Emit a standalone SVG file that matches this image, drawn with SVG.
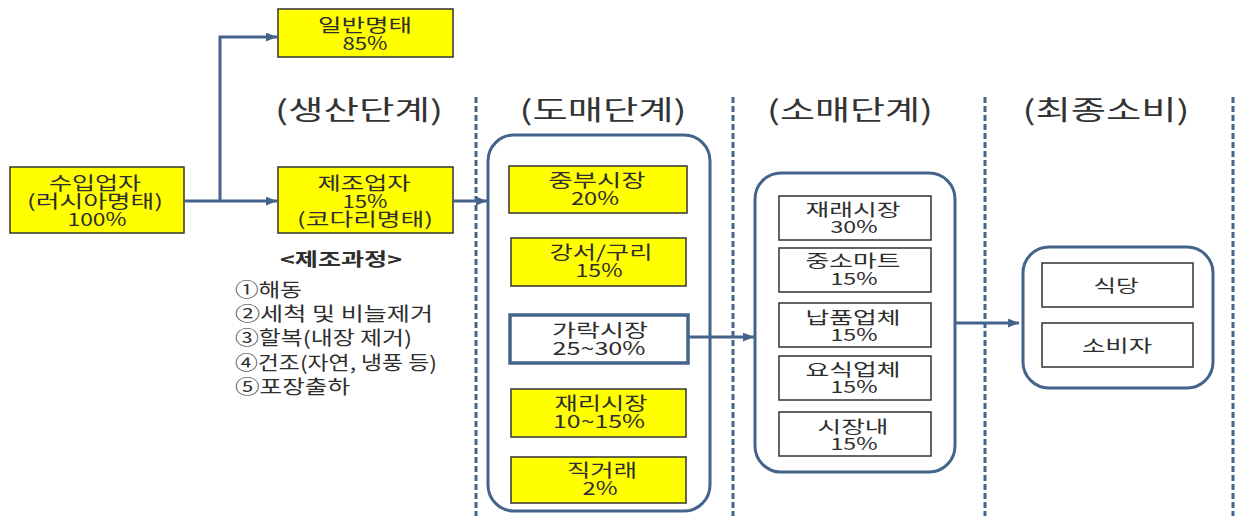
<svg xmlns="http://www.w3.org/2000/svg" width="1240" height="516" viewBox="0 0 1240 516">
<style>
text{font-family:"Noto Sans CJK KR","Noto Sans",sans-serif;fill:#2e2e2e}
.b{font-size:18px;text-anchor:middle}
.r{font-size:17px;text-anchor:middle}
.h{font-size:27px;text-anchor:middle;fill:#333}
.p{font-size:19px}
.pt{font-size:18px;font-weight:bold;text-anchor:middle}
.y{fill:#ffff00;stroke:#333;stroke-width:1.5}
.w{fill:#fff;stroke:#333;stroke-width:1.5}
.c{fill:none;stroke:#44648c;stroke-width:3}
.d{stroke:#44648c;stroke-width:3;stroke-dasharray:6 3}
.a{fill:none;stroke:#44648c;stroke-width:3}
</style>
<defs>
<marker id="arr" viewBox="0 0 10 8" refX="10" refY="4" markerWidth="11" markerHeight="9" markerUnits="userSpaceOnUse" orient="auto">
<path d="M0,0 L10,4 L0,8 z" fill="#44648c"/>
</marker>
</defs>
<rect width="1240" height="516" fill="#fff"/>

<g id="dividers">
<line class="d" x1="476" y1="97" x2="476" y2="516"/>
<line class="d" x1="733" y1="97" x2="733" y2="516"/>
<line class="d" x1="985" y1="97" x2="985" y2="516"/>
<line class="d" x1="1233" y1="97" x2="1233" y2="516"/>
</g>

<g id="headers">
<text class="h" x="359" y="120" textLength="168" lengthAdjust="spacingAndGlyphs">(생산단계)</text>
<text class="h" x="603" y="120" textLength="167" lengthAdjust="spacingAndGlyphs">(도매단계)</text>
<text class="h" x="850" y="120" textLength="166" lengthAdjust="spacingAndGlyphs">(소매단계)</text>
<text class="h" x="1106" y="120" textLength="167" lengthAdjust="spacingAndGlyphs">(최종소비)</text>
</g>

<g id="importer">
<rect class="y" x="10" y="167" width="174" height="66"/>
<text class="b" x="95" y="190" textLength="92" lengthAdjust="spacingAndGlyphs">수입업자</text>
<text class="b" x="95" y="208" textLength="136" lengthAdjust="spacingAndGlyphs">(러시아명태)</text>
<text class="b" x="97" y="226" textLength="59" lengthAdjust="spacingAndGlyphs">100%</text>
</g>

<g id="general">
<rect class="y" x="278" y="9" width="175" height="48"/>
<text class="b" x="365" y="32" textLength="94" lengthAdjust="spacingAndGlyphs">일반명태</text>
<text class="b" x="365" y="50" textLength="45" lengthAdjust="spacingAndGlyphs">85%</text>
</g>

<g id="manufacturer">
<rect class="y" x="278" y="167" width="175" height="66"/>
<text class="b" x="364" y="190" textLength="93" lengthAdjust="spacingAndGlyphs">제조업자</text>
<text class="b" x="365" y="208" textLength="45" lengthAdjust="spacingAndGlyphs">15%</text>
<text class="b" x="365" y="226" textLength="136" lengthAdjust="spacingAndGlyphs">(코다리명태)</text>
</g>

<g id="process">
<text class="pt" x="341" y="266" textLength="122" lengthAdjust="spacingAndGlyphs">&lt;제조과정&gt;</text>
<text class="p" x="235" y="297" textLength="67" lengthAdjust="spacingAndGlyphs">①해동</text>
<text class="p" x="235" y="321" textLength="198" lengthAdjust="spacingAndGlyphs">②세척 및 비늘제거</text>
<text class="p" x="235" y="345" textLength="177" lengthAdjust="spacingAndGlyphs">③할복(내장 제거)</text>
<text class="p" x="235" y="370" textLength="202" lengthAdjust="spacingAndGlyphs">④건조(자연, 냉풍 등)</text>
<text class="p" x="235" y="394" textLength="115" lengthAdjust="spacingAndGlyphs">⑤포장출하</text>
</g>

<g id="wholesale">
<rect class="c" x="488" y="135" width="222" height="376" rx="26"/>
</g>
<g id="jungbu">
<rect class="y" x="509" y="166" width="178" height="47"/>
<text class="b" x="597" y="187" textLength="97" lengthAdjust="spacingAndGlyphs">중부시장</text>
<text class="b" x="595" y="205" textLength="48" lengthAdjust="spacingAndGlyphs">20%</text>
</g>
<g id="gangseo">
<rect class="y" x="511" y="238" width="175" height="48"/>
<text class="b" x="601" y="259" textLength="103" lengthAdjust="spacingAndGlyphs">강서/구리</text>
<text class="b" x="599" y="277" textLength="47" lengthAdjust="spacingAndGlyphs">15%</text>
</g>
<g id="garak">
<rect x="510" y="315" width="178" height="48" fill="#fff" stroke="#44648c" stroke-width="3.5"/>
<text class="b" x="600" y="337" textLength="96" lengthAdjust="spacingAndGlyphs">가락시장</text>
<text class="b" x="599" y="355" textLength="93" lengthAdjust="spacingAndGlyphs">25~30%</text>
</g>
<g id="jaeri">
<rect class="y" x="511" y="389" width="175" height="48"/>
<text class="b" x="601" y="410" textLength="93" lengthAdjust="spacingAndGlyphs">재리시장</text>
<text class="b" x="599" y="428" textLength="92" lengthAdjust="spacingAndGlyphs">10~15%</text>
</g>
<g id="direct">
<rect class="y" x="511" y="457" width="175" height="46"/>
<text class="b" x="602" y="477" textLength="70" lengthAdjust="spacingAndGlyphs">직거래</text>
<text class="b" x="600" y="495" textLength="35" lengthAdjust="spacingAndGlyphs">2%</text>
</g>

<g id="retail">
<rect class="c" x="755" y="173" width="200" height="299" rx="26"/>
</g>
<g id="traditional">
<rect class="w" x="779" y="196" width="152" height="44"/>
<text class="r" x="853" y="216" textLength="95" lengthAdjust="spacingAndGlyphs">재래시장</text>
<text class="r" x="854" y="233" textLength="47" lengthAdjust="spacingAndGlyphs">30%</text>
</g>
<g id="mart">
<rect class="w" x="779" y="248" width="152" height="44"/>
<text class="r" x="853" y="267" textLength="95" lengthAdjust="spacingAndGlyphs">중소마트</text>
<text class="r" x="854" y="285" textLength="47" lengthAdjust="spacingAndGlyphs">15%</text>
</g>
<g id="supplier">
<rect class="w" x="779" y="303" width="152" height="44"/>
<text class="r" x="853" y="324" textLength="95" lengthAdjust="spacingAndGlyphs">납품업체</text>
<text class="r" x="854" y="341" textLength="47" lengthAdjust="spacingAndGlyphs">15%</text>
</g>
<g id="food">
<rect class="w" x="779" y="356" width="152" height="44"/>
<text class="r" x="853" y="376" textLength="95" lengthAdjust="spacingAndGlyphs">요식업체</text>
<text class="r" x="854" y="393" textLength="47" lengthAdjust="spacingAndGlyphs">15%</text>
</g>
<g id="inmarket">
<rect class="w" x="779" y="412" width="152" height="44"/>
<text class="r" x="853" y="433" textLength="71" lengthAdjust="spacingAndGlyphs">시장내</text>
<text class="r" x="854" y="450" textLength="47" lengthAdjust="spacingAndGlyphs">15%</text>
</g>

<g id="final">
<rect class="c" x="1023" y="247" width="190" height="141" rx="26"/>
</g>
<g id="restaurant">
<rect class="w" x="1042" y="263" width="151" height="44"/>
<text class="r" x="1116" y="292" textLength="45" lengthAdjust="spacingAndGlyphs">식당</text>
</g>
<g id="consumer">
<rect class="w" x="1042" y="323" width="151" height="44"/>
<text class="r" x="1117" y="352" textLength="70" lengthAdjust="spacingAndGlyphs">소비자</text>
</g>

<g id="connectors">
<path class="a" d="M184,201 H277" marker-end="url(#arr)"/>
<path class="a" d="M220,201 V37 H277" marker-end="url(#arr)"/>
<path class="a" d="M453,201 H487" marker-end="url(#arr)"/>
<path class="a" d="M688,337 H754" marker-end="url(#arr)"/>
<path class="a" d="M955,323 H1019" marker-end="url(#arr)"/>
</g>
</svg>
